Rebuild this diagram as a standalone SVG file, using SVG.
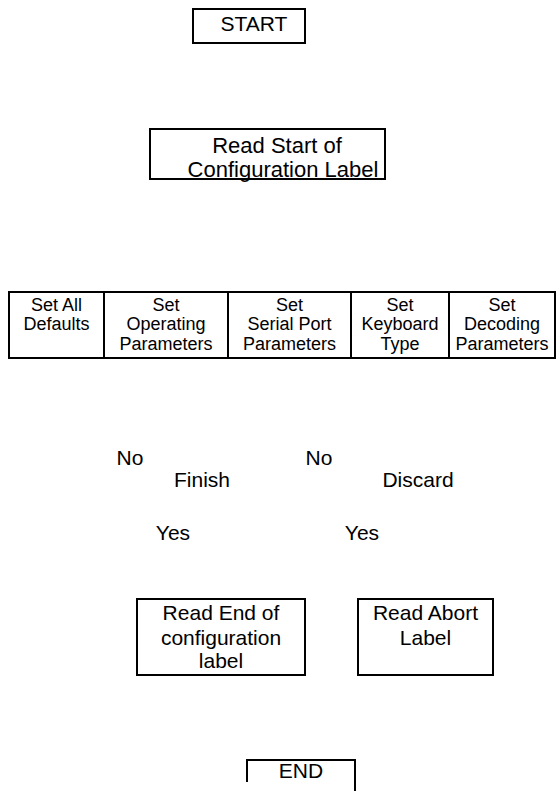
<svg xmlns="http://www.w3.org/2000/svg" width="557" height="791" viewBox="0 0 557 791">
<style>
  rect, path.box { fill: #ffffff; stroke: #000000; stroke-width: 2; }
  text { font-family: "Liberation Sans", Arial, sans-serif; fill: #000000; text-anchor: middle; }
  .big { font-size: 21px; }
  .xl { font-size: 22px; }
  .row { font-size: 18px; }
</style>
<rect x="0" y="0" width="557" height="791" style="stroke:none;fill:#ffffff"/>
<g id="start">
  <rect x="193" y="9" width="112" height="34"/>
  <text class="big" x="254" y="30.5">START</text>
</g>
<g id="read-start">
  <rect x="150" y="129" width="235" height="50"/>
  <text class="xl" x="277" y="153">Read Start of</text>
  <text class="xl" x="283" y="177">Configuration Label</text>
</g>
<g id="set-all-defaults">
  <rect x="9" y="292" width="95" height="66"/>
  <text class="row" x="56.5" y="310.5">Set All</text>
  <text class="row" x="56.5" y="330">Defaults</text>
</g>
<g id="set-operating">
  <rect x="104" y="292" width="124" height="66"/>
  <text class="row" x="166" y="310.5">Set</text>
  <text class="row" x="166" y="330">Operating</text>
  <text class="row" x="166" y="350">Parameters</text>
</g>
<g id="set-serial">
  <rect x="228" y="292" width="123" height="66"/>
  <text class="row" x="289.5" y="310.5">Set</text>
  <text class="row" x="289.5" y="330">Serial Port</text>
  <text class="row" x="289.5" y="350">Parameters</text>
</g>
<g id="set-keyboard">
  <rect x="351" y="292" width="98" height="66"/>
  <text class="row" x="400" y="310.5">Set</text>
  <text class="row" x="400" y="330">Keyboard</text>
  <text class="row" x="400" y="350">Type</text>
</g>
<g id="set-decoding">
  <rect x="449" y="292" width="106" height="66"/>
  <text class="row" x="502" y="310.5">Set</text>
  <text class="row" x="502" y="330">Decoding</text>
  <text class="row" x="502" y="350">Parameters</text>
</g>
<g id="finish">
  <text class="big" x="202" y="486.5">Finish</text>
</g>
<g id="discard">
  <text class="big" x="418" y="486.5">Discard</text>
</g>
<g id="connectors">
  <text class="big" x="130" y="465">No</text>
  <text class="big" x="319" y="465">No</text>
  <text class="big" x="173" y="540">Yes</text>
  <text class="big" x="362" y="540">Yes</text>
</g>
<g id="read-end">
  <rect x="137" y="599" width="168" height="76"/>
  <text class="big" x="221" y="620">Read End of</text>
  <text class="big" x="221" y="645">configuration</text>
  <text class="big" x="221" y="668">label</text>
</g>
<g id="read-abort">
  <rect x="358" y="599" width="135" height="76"/>
  <text class="big" x="425.5" y="620">Read Abort</text>
  <text class="big" x="425.5" y="645">Label</text>
</g>
<g id="end">
  <path class="box" d="M247,782 V760 H355 V792" style="fill:none"/>
  <text class="big" x="301" y="778">END</text>
</g>
</svg>
